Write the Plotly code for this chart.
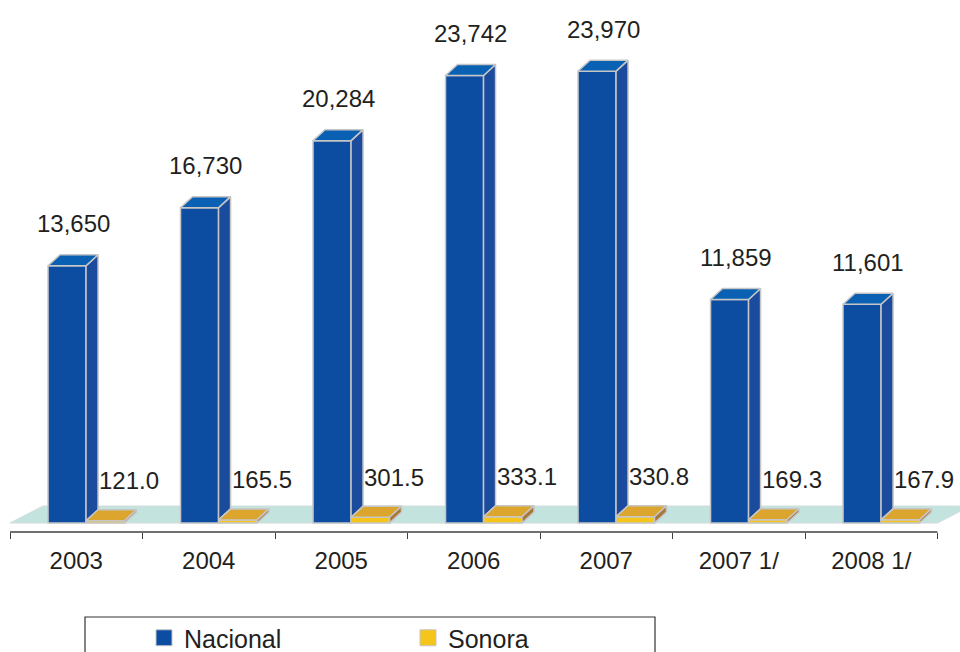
import plotly.graph_objects as go

# ---------------- data ----------------
categories = ["2003", "2004", "2005", "2006", "2007", "2007 1/", "2008 1/"]
nacional = [13650, 16730, 20284, 23742, 23970, 11859, 11601]
sonora = [121.0, 165.5, 301.5, 333.1, 330.8, 169.3, 167.9]

# ---------------- geometry / style ----------------
W, H = 960, 652
ML, MR, MT, MB = 10, 0, 0, 120
PLOT_W = W - ML - MR
PLOT_H = H - MT - MB
PX_PER_CAT = 132.5
PX_PER_VAL = 0.01885
ZERO_ABOVE_BOTTOM = 9  # px between value 0 and plot bottom

x_min = -0.5
x_max = x_min + PLOT_W / PX_PER_CAT
y_min = -ZERO_ABOVE_BOTTOM / PX_PER_VAL
y_max = y_min + PLOT_H / PX_PER_VAL


def ux(px):
    return px / PX_PER_CAT


def uy(px):
    return px / PX_PER_VAL


def paper_x(px):
    return (px - ML) / PLOT_W


def paper_y(py):
    return (MT + PLOT_H - py) / PLOT_H


DX, DY = ux(12), uy(11)       # bar depth
FDX, FDY = ux(33), uy(17)     # floor depth
N_OFF, N_W = -0.213, 0.287
S_OFF, S_W = 0.074, 0.29
EDGE = "#c6c6c6"
FONT = "Arial, Liberation Sans, sans-serif"
TXT = "#231f20"

N_FRONT, N_TOP, N_SIDE = "#0c4da2", "#0a61b3", "#1b4b9c"
S_FRONT, S_TOP, S_SIDE = "#f6c51c", "#dca62e", "#a87838"

n = len(categories)
xs = list(range(n))

fig = go.Figure()

# front faces as bars
fig.add_trace(go.Bar(x=xs, y=nacional, offset=N_OFF, width=N_W,
                     marker=dict(color=N_FRONT, line=dict(color=EDGE, width=1.5)),
                     showlegend=False, hoverinfo="skip"))
fig.add_trace(go.Bar(x=xs, y=sonora, offset=S_OFF, width=S_W,
                     marker=dict(color=S_FRONT, line=dict(color=EDGE, width=1.5)),
                     showlegend=False, hoverinfo="skip"))


def faces(vals, off, w, kind, base_vals=None):
    X, Y = [], []
    for i, v in enumerate(vals):
        x0 = i + off
        x1 = x0 + w
        if kind == "top":
            X += [x0, x1, x1 + DX, x0 + DX, x0, None]
            Y += [v, v, v + DY, v + DY, v, None]
        else:
            b = base_vals[i] if base_vals else 0
            X += [x1, x1, x1 + DX, x1 + DX, x1, None]
            Y += [b, v, v + DY, b + DY, b, None]
    return X, Y


def poly(X, Y, color):
    return go.Scatter(x=X, y=Y, mode="lines", fill="toself", fillcolor=color,
                      line=dict(color=EDGE, width=1.5), showlegend=False,
                      hoverinfo="skip")


X, Y = faces(nacional, N_OFF, N_W, "side", base_vals=sonora)
fig.add_trace(poly(X, Y, N_SIDE))
X, Y = faces(nacional, N_OFF, N_W, "top")
fig.add_trace(poly(X, Y, N_TOP))
X, Y = faces(sonora, S_OFF, S_W, "top")
fig.add_trace(poly(X, Y, S_TOP))
X, Y = faces(sonora, S_OFF, S_W, "side")
fig.add_trace(poly(X, Y, S_SIDE))

# legend entries
fig.add_trace(go.Scatter(x=[None], y=[None], mode="markers", name="Nacional",
                         marker=dict(symbol="square", size=16, color=N_FRONT,
                                     line=dict(color=EDGE, width=1))))
fig.add_trace(go.Scatter(x=[None], y=[None], mode="markers", name="Sonora",
                         marker=dict(symbol="square", size=16, color=S_FRONT,
                                     line=dict(color=EDGE, width=1))))

# data labels
annotations = []
for i, v in enumerate(nacional):
    annotations.append(dict(x=i - 0.023, y=v, yshift=42, text=f"{v:,}",
                            showarrow=False, yanchor="middle", xanchor="center",
                            font=dict(family=FONT, size=24, color=TXT)))
for i, v in enumerate(sonora):
    annotations.append(dict(x=i + 0.40, y=v, yshift=40, text=f"{v:.1f}",
                            showarrow=False, yanchor="middle", xanchor="center",
                            font=dict(family=FONT, size=24, color=TXT)))

shapes = [
    # floor
    dict(type="path", xref="x", yref="y", layer="below",
         path=(f"M {x_min},0 L {n - 0.5},0 L {n - 0.5 + FDX},{FDY} "
               f"L {x_min + FDX},{FDY} Z"),
         fillcolor="#c3e3df", line=dict(color="#d3dcdc", width=1)),
    # axis line
    dict(type="line", xref="x", yref="paper", x0=x_min, x1=n - 0.5, y0=0, y1=0,
         line=dict(color="#404040", width=1.3)),
    # legend box
    dict(type="rect", xref="paper", yref="paper",
         x0=paper_x(85), x1=paper_x(655), y0=paper_y(617), y1=paper_y(665),
         line=dict(color="#333333", width=1.2), fillcolor="rgba(0,0,0,0)"),
]

fig.update_layout(
    width=W, height=H,
    margin=dict(l=ML, r=MR, t=MT, b=MB, autoexpand=False),
    paper_bgcolor="white", plot_bgcolor="white",
    barmode="overlay",
    font=dict(family=FONT, size=24, color=TXT),
    xaxis=dict(range=[x_min, x_max], tickmode="array", tickvals=xs,
               ticktext=categories, ticks="", showgrid=False, zeroline=False,
               showline=False, ticklabelstandoff=12,
               tickfont=dict(size=24, color=TXT, family=FONT),
               minor=dict(tickmode="array",
                          tickvals=[k - 0.5 for k in range(n + 1)],
                          ticks="outside", ticklen=6, tickcolor="#404040",
                          tickwidth=1.3, showgrid=False)),
    yaxis=dict(range=[y_min, y_max], visible=False),
    showlegend=True,
    legend=dict(orientation="h", x=paper_x(144), y=paper_y(615),
                xanchor="left", yanchor="top", bgcolor="rgba(0,0,0,0)",
                entrywidth=219, entrywidthmode="pixels",
                font=dict(size=25, color=TXT, family=FONT)),
    annotations=annotations,
    shapes=shapes,
)

fig.write_html(
    "out.html",
    config={"displayModeBar": False},
    post_script="document.body.style.margin='0';document.body.style.overflow='hidden';",
)
